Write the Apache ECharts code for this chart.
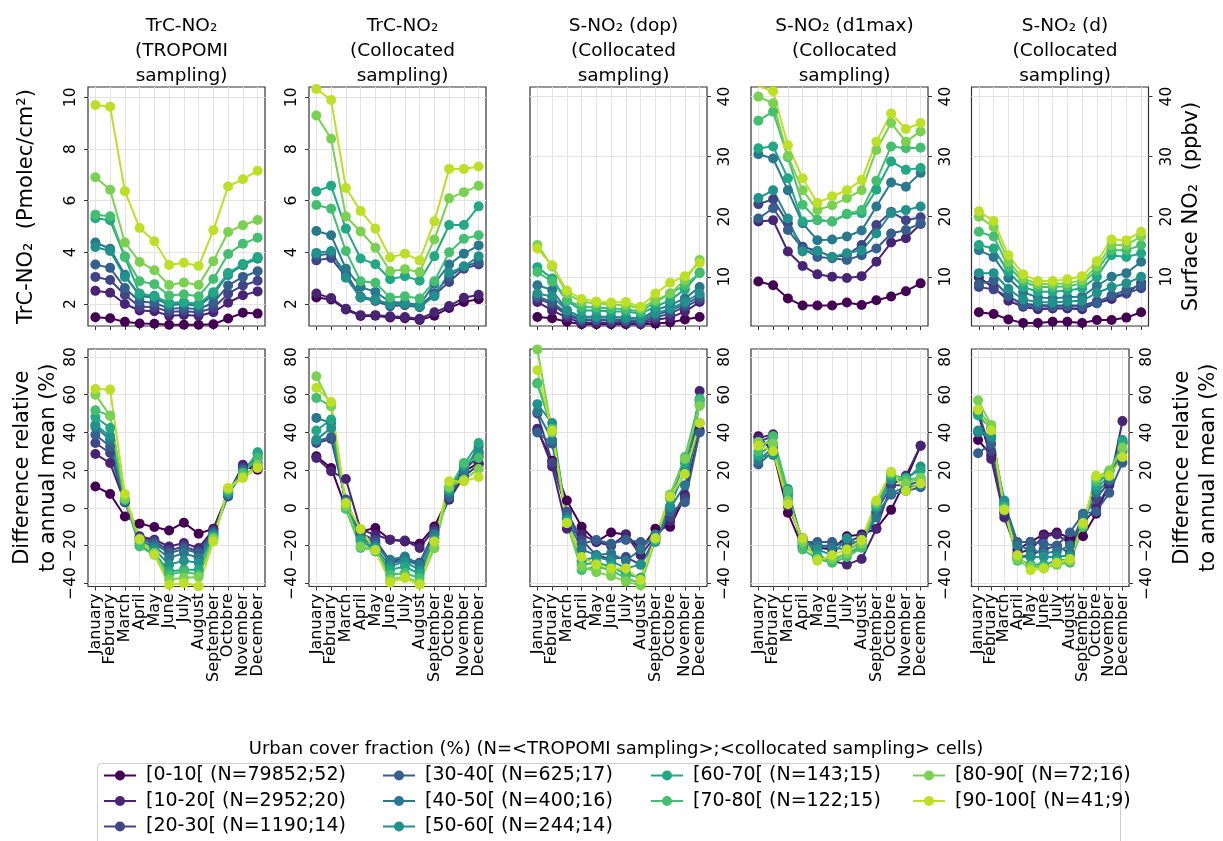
<!DOCTYPE html>
<html><head><meta charset="utf-8">
<script src="https://cdn.jsdelivr.net/npm/echarts@6/dist/echarts.min.js"></script>
<style>html,body{margin:0;padding:0;background:#fff}#c{width:1223px;height:841px}</style>
</head><body><div id="c"></div>
<script>
const months = ['January','February','March','April','May','June','July','August','September','Octobre','November','December'];
const groups = ['[0-10[ (N=79852;52)','[10-20[ (N=2952;20)','[20-30[ (N=1190;14)','[30-40[ (N=625;17)','[40-50[ (N=400;16)','[50-60[ (N=244;14)','[60-70[ (N=143;15)','[70-80[ (N=122;15)','[80-90[ (N=72;16)','[90-100[ (N=41;9)'];
const colors = ['#440154','#482475','#414487','#355f8d','#2a788e','#21918c','#22a884','#44bf70','#7ad151','#bddf26'];
const colTitles = ['TrC-NO\u2082\n(TROPOMI\nsampling)','TrC-NO\u2082\n(Collocated\nsampling)','S-NO\u2082 (dop)\n(Collocated\nsampling)','S-NO\u2082 (d1max)\n(Collocated\nsampling)','S-NO\u2082 (d)\n(Collocated\nsampling)'];
const yTicksTrc = [2,4,6,8,10];
const yTicksSurf = [10,20,30,40];
const yTicksDiff = [-40,-20,0,20,40,60,80];

// Top row: absolute values (one row per urban class, Jan..Dec)
const trcTropomi = [
 [1.49,1.45,1.31,1.25,1.24,1.2,1.2,1.2,1.22,1.44,1.66,1.63],
 [2.51,2.44,2.0,1.75,1.72,1.55,1.58,1.55,1.68,2.05,2.34,2.49],
 [3.05,2.93,2.35,1.9,1.88,1.7,1.72,1.68,1.85,2.4,2.72,2.9],
 [3.53,3.40,2.62,2.1,2.05,1.82,1.85,1.8,2.05,2.72,3.05,3.27],
 [4.38,4.14,3.13,2.3,2.25,1.95,2.0,1.92,2.35,3.18,3.5,3.79],
 [4.21,4.05,3.05,2.38,2.32,2.0,2.05,1.98,2.42,3.12,3.53,3.75],
 [5.32,5.24,3.82,2.41,2.3,2.05,2.08,2.0,2.46,3.2,3.55,3.82],
 [5.46,5.40,3.85,2.88,2.77,2.33,2.38,2.3,2.97,3.94,4.33,4.57],
 [6.91,6.42,4.38,3.63,3.31,2.74,2.83,2.74,3.66,4.79,5.05,5.25],
 [9.70,9.64,6.37,4.94,4.43,3.51,3.60,3.47,4.86,6.55,6.83,7.16]
];
const trcColloc = [
 [2.25,2.18,1.79,1.54,1.55,1.48,1.45,1.38,1.55,1.85,2.08,2.19],
 [2.41,2.23,1.82,1.57,1.57,1.53,1.50,1.43,1.68,1.92,2.24,2.36],
 [3.69,3.78,3.05,2.25,2.12,1.92,1.95,1.88,2.35,2.85,3.37,3.53],
 [3.89,3.95,3.2,2.28,2.18,1.98,2.02,1.92,2.42,3.05,3.45,3.63],
 [4.83,4.66,3.37,2.66,2.47,2.08,2.05,1.96,2.79,3.53,3.95,4.27],
 [3.98,4.05,3.02,2.25,2.15,1.98,2.0,1.9,2.3,3.2,3.45,3.85],
 [6.36,6.58,4.92,3.76,3.54,2.96,3.08,2.90,3.85,5.06,5.06,5.78],
 [5.83,5.69,4.05,2.88,2.82,2.25,2.30,2.21,2.88,4.00,4.53,4.66],
 [9.30,8.40,5.39,4.81,4.18,3.27,3.35,3.24,4.50,6.09,6.33,6.58],
 [10.32,9.90,6.49,5.60,4.92,3.80,3.95,3.69,5.20,7.23,7.23,7.32]
];
const sDop = [
 [3.3,3.1,2.5,2.1,2.1,2.1,2.1,2.1,2.2,2.4,2.9,3.3],
 [5.8,4.4,3.2,2.3,2.3,2.3,2.3,2.2,2.8,3.2,4.2,5.8],
 [6.4,5.4,3.6,2.7,2.7,2.7,2.6,2.4,3.2,3.9,5.0,6.2],
 [6.7,5.8,3.9,2.9,2.9,2.9,2.8,2.7,3.6,4.4,5.4,6.7],
 [8.6,7.8,4.4,3.3,3.4,3.3,3.2,3.0,4.4,5.3,6.4,8.3],
 [7.2,6.7,4.4,3.2,3.3,3.2,3.2,3.1,3.9,4.7,5.8,7.2],
 [11.6,9.7,6.0,4.4,4.4,4.2,4.2,3.9,5.0,6.1,7.9,10.7],
 [10.8,9.2,6.1,5.0,4.9,4.7,4.6,4.2,5.8,7.2,8.6,10.6],
 [15.3,11.7,7.2,5.8,5.6,5.4,5.3,4.7,6.1,7.2,9.4,12.8],
 [14.7,11.9,7.7,6.3,5.9,5.7,5.8,5.0,7.2,9.0,10.1,12.3]
];
const sD1max = [
 [9.2,8.6,6.4,5.2,5.2,5.2,5.7,5.3,6.1,6.7,7.6,8.9],
 [19.2,19.4,14.2,11.8,10.4,10.0,9.8,10.1,12.5,15.7,16.4,18.8],
 [22.1,22.9,18.9,15.0,14.3,13.3,13.6,15.3,18.6,20.8,19.4,19.9],
 [19.7,21.4,17.8,14.7,13.3,13.1,12.8,13.6,14.7,17.2,17.8,18.9],
 [30.4,29.7,24.4,18.9,16.1,16.2,16.7,17.7,21.7,25.7,25.0,27.3],
 [23.1,24.4,19.7,14.2,14.3,13.3,13.9,14.4,17.2,20.6,21.1,21.7],
 [31.4,31.7,26.4,19.2,19.4,19.2,20.4,20.6,24.5,29.2,27.8,28.1],
 [36.0,37.5,29.9,22.0,19.5,19.2,20.5,21.1,26.0,31.7,31.4,31.5],
 [40.0,38.9,30.1,24.4,21.1,21.9,23.1,24.4,31.1,35.6,32.5,34.2],
 [41.7,40.9,31.9,26.4,22.3,23.4,24.4,26.1,32.5,37.2,34.6,35.6]
];
const sDaily = [
 [4.1,3.8,2.9,2.3,2.3,2.5,2.5,2.3,2.8,2.8,3.2,4.1],
 [9.9,8.2,6.0,5.0,4.6,4.7,4.7,4.6,5.6,6.3,7.2,9.0],
 [8.3,7.9,6.7,5.5,5.3,5.2,5.2,5.2,5.9,6.7,7.2,8.1],
 [8.8,9.4,6.8,5.2,5.1,5.0,5.1,5.0,5.6,6.9,7.8,8.6],
 [14.4,13.3,9.8,7.4,6.6,6.4,6.6,6.7,8.5,10.0,10.6,12.5],
 [10.6,10.6,8.0,6.2,5.8,5.7,5.9,6.0,7.3,8.3,8.9,10.0],
 [15.3,14.7,10.8,8.3,7.5,7.5,7.7,8.1,10.0,13.6,13.3,13.9],
 [17.5,16.7,11.7,9.2,8.3,8.3,8.4,8.9,11.1,14.4,14.4,15.3],
 [20.0,18.3,12.5,9.7,8.8,8.8,8.9,9.4,11.7,15.3,15.3,16.7],
 [20.9,19.3,13.6,10.4,9.3,9.3,9.6,10.1,12.6,16.2,16.1,17.5]
];
// Bottom row: difference relative to annual mean (%)
const diffTropomi = [
 [11.4,7.4,-4.5,-8.3,-10.1,-11.9,-7.8,-13.6,-11.0,7.9,22.0,20.3],
 [28.6,23.8,3.0,-15.0,-16.8,-20.4,-18.6,-21.2,-11.5,6.1,22.9,21.2],
 [34.4,29.1,3.0,-15.8,-17.7,-22.5,-20.4,-23.0,-12.4,7.0,21.2,23.8],
 [38.8,32.6,3.5,-16.5,-18.9,-23.9,-21.8,-23.9,-13.3,6.5,20.3,26.5],
 [42.9,36.2,3.8,-17.5,-20.4,-26.5,-23.9,-26.5,-13.8,7.2,19.5,28.2],
 [44.1,38.0,4.0,-18.5,-22.0,-30.0,-28.0,-29.0,-14.5,7.8,18.5,29.5],
 [48.2,42.4,4.2,-20.0,-23.9,-33.6,-32.7,-32.7,-15.5,8.3,17.5,29.1],
 [51.7,48.9,4.5,-20.4,-24.8,-35.4,-33.6,-35.4,-15.5,9.5,18.5,26.5],
 [60.0,48.9,5.0,-17.0,-23.9,-38.0,-37.0,-36.6,-16.5,10.0,16.7,22.9],
 [63.0,62.7,7.4,-16.5,-24.8,-40.7,-39.8,-41.5,-17.7,10.6,15.9,21.2]
];
const diffColloc = [
 [27.4,21.2,0.0,-12.4,-10.6,-16.8,-17.7,-18.9,-9.8,6.1,19.4,23.8],
 [26.5,19.4,15.3,-11.5,-14.2,-16.8,-17.2,-21.2,-11.2,4.4,16.7,22.9],
 [34.4,36.5,3.5,-13.5,-17.0,-28.0,-27.0,-29.0,-12.5,6.0,20.0,27.4],
 [35.3,37.6,4.5,-14.5,-18.5,-29.0,-28.0,-30.0,-14.0,5.5,21.0,29.1],
 [47.7,45.0,1.5,-16.0,-20.0,-27.4,-25.7,-30.0,-14.0,7.9,19.5,32.6],
 [36.2,42.4,3.0,-17.5,-21.0,-31.0,-28.3,-33.0,-16.0,9.0,22.0,30.0],
 [41.0,46.8,1.0,-16.8,-23.0,-32.7,-31.0,-35.0,-18.0,10.0,23.0,34.4],
 [58.3,53.9,-0.5,-21.2,-22.1,-35.4,-34.5,-37.1,-21.2,10.6,23.8,26.5],
 [69.8,53.9,0.8,-20.4,-22.1,-38.0,-36.3,-39.8,-21.2,11.4,15.0,20.6],
 [63.6,56.1,2.6,-11.2,-22.5,-39.4,-37.1,-40.7,-17.7,14.1,14.1,16.4]
];
const diffDop = [
 [41,25,4,-10,-18,-13,-14,-22,-11,-10,6,41],
 [42,22,-11,-14,-18,-20,-14,-25,-15,-7,7,62],
 [50,24,-2,-17,-25,-27,-26,-30,-16,-5,5,57],
 [40,34,-3,-19,-17,-19,-17,-18,-17,-2,3,40],
 [51,36,-5,-22,-25,-24,-28,-22,-14,0,12,45],
 [55,45,-6,-28,-26,-28,-32,-30,-18,1,20,55],
 [66,42,-7,-30,-29,-31,-35,-37,-16,5,24,58],
 [66,42,-8,-33,-31,-33,-37,-40,-17,7,27,57],
 [84,40,-8,-31,-34,-36,-39,-41,-16,7,26,54],
 [73,41,-8,-26,-30,-32,-32,-38,-16,6,18,45]
];
const diffD1max = [
 [38,30,-2.5,-21,-21,-22,-15,-14,-11,-1,15,33],
 [37,39,1,-16,-26,-28,-30,-27,-11,12,17,33],
 [35,38,5,-17,-20,-20,-18,-15,-2,12,12,14],
 [23,30,8,-18,-18,-18,-20,-17,-3,7,9,11],
 [25,32,7,-19,-20,-21,-22,-18,-5,8,11,12],
 [27,28,10,-20,-22,-25,-16,-20,0,15,15,22],
 [28,34,8,-20,-25,-28,-24,-21,1,17,16,20],
 [30,38,9,-22,-27,-29,-26,-21,2,18,15,16],
 [35,34,4,-18,-27,-27,-24,-19,3,19,13,16],
 [33,30,2,-16,-28,-25,-22,-17,4,19,9,13]
];
const diffDaily = [
 [36,28,-3,-22,-18,-14,-13,-16,-15,-3,13,35],
 [50,26,-5,-24,-22,-15,-14,-19,-8,0,12,46],
 [51,30,-2,-26,-25,-22,-20,-24,-5,5,14,34],
 [29,34,3,-18,-18,-19,-20,-13,-3,-2,8,24],
 [40,37,2,-20,-22,-24,-23,-20,-4,8,15,30],
 [41,38,4,-26,-26,-26,-26,-25,-8,10,17,36],
 [49,42,1,-27,-30,-30,-28,-27,-10,12,19,35],
 [52,43,0,-28,-31,-31,-30,-29,-10,14,19,31],
 [57,44,-1,-27,-31,-32,-30,-28,-9,16,20,32],
 [52,41,-1,-25,-33,-32,-29,-27,-8,17,17,27]
];

const panels = [trcTropomi, trcColloc, sDop, sD1max, sDaily, diffTropomi, diffColloc, diffDop, diffD1max, diffDaily];
const FONT = 'DejaVu Sans';
const colLeft = [88, 309, 530, 751, 971.5];
const W = 177;
const rowTop = [87, 349];
const rowH = [239, 237.5];
const minus = v => String(v).replace('-', '\u2212');

const grid = [], xAxis = [], yAxis = [], series = [];
for (let p = 0; p < 10; p++) {
  const r = Math.floor(p / 5), c = p % 5;
  grid.push({left: colLeft[c], top: rowTop[r], width: W, height: rowH[r], show: true, borderColor: '#333', borderWidth: 1.2, backgroundColor: 'rgba(0,0,0,0)'});
  xAxis.push({
    gridIndex: p, type: 'category', data: months, boundaryGap: true, position: 'bottom',
    axisLine: {show: false, onZero: false},
    axisTick: {show: true, length: 4, alignWithLabel: true, interval: 0, lineStyle: {color: '#333', width: 1}},
    axisLabel: {show: r === 1, interval: 0, rotate: 90, margin: 7, fontSize: 16, color: '#000', fontFamily: FONT, hideOverlap: false},
    splitLine: {show: true, alignWithLabel: true, interval: 0, lineStyle: {color: '#e3e3e3', width: 1}}
  });
  let ticks, mn, mx;
  if (r === 1) { ticks = yTicksDiff; mn = -41.6; mx = 84.2; }
  else if (c < 2) { ticks = yTicksTrc; mn = 1.15; mx = 10.4; }
  else { ticks = yTicksSurf; mn = 1.8; mx = 41.6; }
  const ya = {
    gridIndex: p, type: 'value', min: mn, max: mx, position: c < 2 ? 'left' : 'right',
    axisLine: {show: false, onZero: false},
    axisTick: {show: true, length: 4, customValues: ticks, lineStyle: {color: '#333', width: 1}},
    axisLabel: {customValues: ticks, rotate: 90, margin: c < 2 ? 9 : 10, fontSize: 15.5, color: '#000', fontFamily: FONT,
      showMinLabel: true, showMaxLabel: true, formatter: minus},
    splitLine: {show: true, lineStyle: {color: '#e3e3e3', width: 1}},
    nameLocation: 'middle', nameRotate: 90,
    nameTextStyle: {fontSize: 21, color: '#000', fontFamily: FONT, lineHeight: 26}
  };
  if (p === 0) { ya.name = 'TrC-NO\u2082  (Pmolec/cm\u00b2)'; ya.nameGap = 48; }
  if (p === 4) { ya.name = 'Surface NO\u2082  (ppbv)'; ya.nameGap = 30; }
  if (p === 5) { ya.name = 'Difference relative\nto annual mean (%)'; ya.nameGap = 26; }
  if (p === 9) { ya.name = 'Difference relative\nto annual mean (%)'; ya.nameGap = 41; }
  yAxis.push(ya);
  panels[p].forEach((vals, g) => {
    series.push({
      type: 'line', name: groups[g], xAxisIndex: p, yAxisIndex: p,
      data: vals,
      symbol: 'circle', symbolSize: 10, showSymbol: true, showAllSymbol: true,
      lineStyle: {width: 2, color: colors[g]}, itemStyle: {color: colors[g]},
      emphasis: {disabled: true}, animation: false, clip: true
    });
  });
}

const title = colTitles.map((t, c) => ({
  text: t, left: colLeft[c] + W / 2, top: 9, textAlign: 'center',
  textStyle: {fontSize: 18.5, lineHeight: 25, fontWeight: 'normal', color: '#000', fontFamily: FONT}
}));
title.push({text: 'Urban cover fraction (%) (N=<TROPOMI sampling>;<collocated sampling> cells)', left: 611, top: 735, textAlign: 'center',
  textStyle: {fontSize: 18, fontWeight: 'normal', color: '#000', fontFamily: FONT}});

const legCols = [[0,1,2],[3,4,5],[6,7],[8,9]];
const legLeft = [103, 382, 650, 912];
const legend = legCols.map((idx, k) => ({
  data: idx.map(i => groups[i]), left: legLeft[k], top: 766, orient: 'vertical', padding: 0,
  itemGap: 6.5, itemWidth: 32, itemHeight: 12.5, selectedMode: false,
  textStyle: {fontSize: 19, color: '#000', fontFamily: FONT, padding: [0, 0, 0, 5]}
}));

const chart = echarts.init(document.getElementById('c'), null, {renderer: 'canvas'});
chart.setOption({
  animation: false, backgroundColor: '#fff', textStyle: {fontFamily: FONT},
  title, legend, grid, xAxis, yAxis, series,
  graphic: [{type: 'rect', left: 97, top: 763, z: -1, shape: {width: 1023, height: 95, r: 4}, style: {fill: '#fff', stroke: '#cccccc', lineWidth: 1}}]
});
</script></body></html>
